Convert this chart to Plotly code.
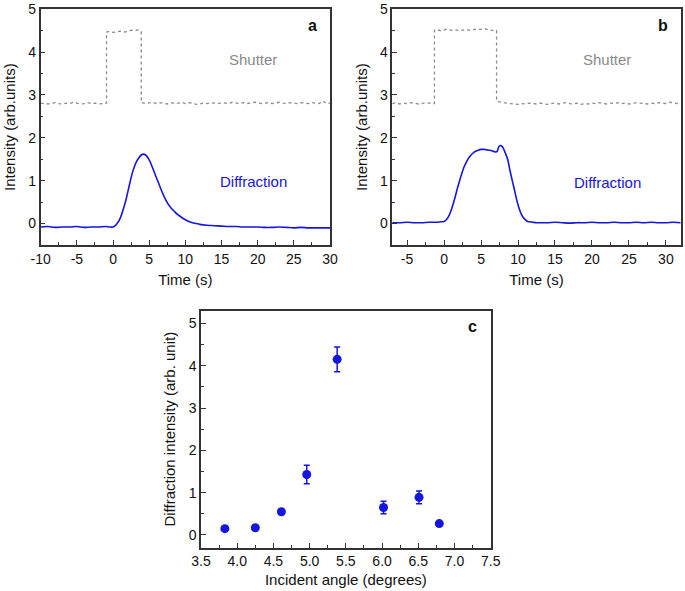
import numpy as np
import plotly.graph_objects as go

# ---------------- Panel a data ----------------
shut_a_pre = [2.80, 2.81, 2.79, 2.80, 2.82, 2.80, 2.79, 2.81, 2.80, 2.83, 2.81, 2.79,
              2.80, 2.82, 2.80, 2.81, 2.79, 2.80, 2.81]                      # t=-10..-1 step .5
shut_a_high = [4.47, 4.48, 4.46, 4.47, 4.49, 4.47, 4.48, 4.51, 4.50, 4.52, 4.48]  # edges -0.9, -0.5..3.5, 3.9
shut_a_post = [2.82, 2.80, 2.81, 2.83, 2.80, 2.82, 2.81, 2.79, 2.82, 2.80, 2.81, 2.83,
               2.80, 2.82, 2.81, 2.78, 2.79, 2.81, 2.80, 2.82, 2.81, 2.80, 2.82, 2.81,
               2.80, 2.83, 2.81, 2.80, 2.82, 2.80, 2.81, 2.83, 2.82, 2.80, 2.81, 2.82,
               2.80, 2.81, 2.83, 2.81, 2.80, 2.82, 2.81, 2.80, 2.82, 2.81, 2.80, 2.82,
               2.81, 2.80, 2.86, 2.80, 2.81]                                  # t=4..30 step .5
shut_a_t = (list(np.arange(-10, -0.99, 0.5)) + [-0.9, -0.9] + list(np.arange(-0.5, 3.51, 0.5))
            + [3.9, 3.9] + list(np.arange(4.0, 30.01, 0.5)))
shut_a_y = shut_a_pre + [2.81] + shut_a_high + [2.82] + shut_a_post

diff_a_t = [-10, -9, -8, -7, -6, -5, -4, -3, -2, -1, -0.5, 0, 0.3, 0.6, 0.9, 1.2, 1.5, 1.8,
            2.1, 2.4, 2.7, 3.0, 3.3, 3.6, 3.9, 4.2, 4.5, 4.8, 5.1, 5.4, 5.7, 6.0, 6.4, 6.8,
            7.2, 7.6, 8.0, 8.5, 9.0, 9.5, 10, 10.5, 11, 11.5, 12, 13, 14, 15, 16, 17, 18,
            19, 20, 21, 22, 23, 24, 25, 26, 27, 28, 29, 30]
diff_a_y = [-0.08, -0.07, -0.09, -0.08, -0.08, -0.07, -0.09, -0.08, -0.08, -0.07, -0.08,
            -0.08, -0.05, 0.01, 0.09, 0.22, 0.38, 0.56, 0.78, 1.00, 1.20, 1.35, 1.46, 1.54,
            1.60, 1.62, 1.60, 1.54, 1.45, 1.33, 1.20, 1.07, 0.90, 0.73, 0.58, 0.46, 0.37,
            0.28, 0.20, 0.14, 0.09, 0.05, 0.02, 0.00, -0.02, -0.04, -0.05, -0.06, -0.07,
            -0.07, -0.08, -0.08, -0.08, -0.09, -0.09, -0.08, -0.09, -0.10, -0.09, -0.10,
            -0.10, -0.10, -0.10]

# ---------------- Panel b data ----------------
shut_b_pre = [2.80, 2.82, 2.79, 2.81, 2.80, 2.82, 2.81, 2.79, 2.80, 2.82, 2.81, 2.80]  # t=-7..-1.5
shut_b_high = [4.51, 4.53, 4.50, 4.52, 4.54, 4.51, 4.52, 4.50, 4.51, 4.53, 4.51, 4.52,
               4.54, 4.53, 4.55, 4.52, 4.50, 4.49, 4.50]   # edges -1.3, -1..7, 7.1
shut_b_post = [2.84, 2.82, 2.81, 2.80, 2.79, 2.78, 2.80, 2.79, 2.81, 2.80, 2.79, 2.81,
               2.80, 2.78, 2.80, 2.81, 2.79, 2.80, 2.82, 2.80, 2.79, 2.81, 2.78, 2.80,
               2.79, 2.81, 2.80, 2.82, 2.80, 2.79, 2.81, 2.80, 2.82, 2.80, 2.81, 2.79,
               2.80, 2.82, 2.81, 2.80, 2.79, 2.81, 2.80, 2.82, 2.81, 2.80, 2.83, 2.81,
               2.80, 2.82]   # t=7.5..32 step .5
shut_b_t = (list(np.arange(-7, -1.49, 0.5)) + [-1.3, -1.3] + list(np.arange(-1.0, 7.01, 0.5))
            + [7.1, 7.1] + list(np.arange(7.5, 32.01, 0.5)))
shut_b_y = shut_b_pre + [2.80] + shut_b_high + [2.86] + shut_b_post

diff_b_t = [-7, -6, -5, -4, -3, -2, -1, -0.5, 0, 0.3, 0.6, 0.9, 1.2, 1.5, 1.8, 2.1, 2.4,
            2.7, 3.0, 3.3, 3.6, 3.9, 4.2, 4.6, 5.0, 5.4, 5.8, 6.2, 6.6, 7.0, 7.2, 7.4, 7.6,
            7.8, 8.0, 8.3, 8.6, 8.9, 9.2, 9.5, 9.8, 10.1, 10.4, 10.7, 11.0, 11.3, 11.6, 12,
            12.5, 13, 14, 15, 16, 17, 18, 19, 20, 21, 22, 23, 24, 25, 26, 27, 28, 29, 30,
            31, 32]
diff_b_y = [0.02, 0.02, 0.03, 0.02, 0.02, 0.03, 0.03, 0.04, 0.05, 0.09, 0.16, 0.28, 0.44,
            0.62, 0.82, 1.00, 1.17, 1.32, 1.43, 1.52, 1.59, 1.64, 1.68, 1.71, 1.73, 1.73,
            1.72, 1.71, 1.69, 1.67, 1.69, 1.79, 1.82, 1.81, 1.76, 1.64, 1.50, 1.25, 1.02,
            0.80, 0.57, 0.38, 0.24, 0.14, 0.09, 0.05, 0.04, 0.03, 0.02, 0.02, 0.02, 0.03,
            0.02, 0.01, 0.02, 0.02, 0.03, 0.02, 0.02, 0.03, 0.02, 0.02, 0.03, 0.02, 0.03,
            0.02, 0.02, 0.03, 0.02]

# ---------------- Panel c data ----------------
angle_c = [3.83, 4.25, 4.61, 4.96, 5.38, 6.02, 6.51, 6.79]
inten_c = [0.15, 0.17, 0.55, 1.43, 4.15, 0.65, 0.89, 0.27]
err_c = [0.02, 0.03, 0.06, 0.22, 0.29, 0.15, 0.15, 0.02]

# tick labels (plain hyphen minus as in the reference)
ticks_a = [-10, -5, 0, 5, 10, 15, 20, 25, 30]
ticks_b = [-5, 0, 5, 10, 15, 20, 25, 30]
ticks_y = [0, 1, 2, 3, 4, 5]
ticks_c = [3.5, 4.0, 4.5, 5.0, 5.5, 6.0, 6.5, 7.0, 7.5]

BLUE = "#1515e0"
GRAY = "#8a8a8a"
FONT = "Liberation Sans, Arial, sans-serif"

fig = go.Figure()
fig.add_trace(go.Scatter(x=shut_a_t, y=shut_a_y, mode="lines",
                         line=dict(color=GRAY, width=1.3, dash="dot"), xaxis="x", yaxis="y"))
fig.add_trace(go.Scatter(x=diff_a_t, y=diff_a_y, mode="lines", line_shape="spline",
                         line=dict(color=BLUE, width=1.6), xaxis="x", yaxis="y"))
fig.add_trace(go.Scatter(x=shut_b_t, y=shut_b_y, mode="lines",
                         line=dict(color=GRAY, width=1.3, dash="dot"), xaxis="x2", yaxis="y2"))
fig.add_trace(go.Scatter(x=diff_b_t, y=diff_b_y, mode="lines", line_shape="spline",
                         line=dict(color=BLUE, width=1.6), xaxis="x2", yaxis="y2"))
fig.add_trace(go.Scatter(x=angle_c, y=inten_c, mode="markers",
                         marker=dict(color=BLUE, size=9),
                         error_y=dict(type="data", array=err_c, color=BLUE, thickness=1.5, width=3),
                         xaxis="x3", yaxis="y3"))


def ax(domain, rng, tickvals, ticktext, minor_dtick, anchor, title, standoff=6):
    return dict(domain=domain, range=rng, tickmode="array", tickvals=tickvals, ticktext=ticktext,
                anchor=anchor, automargin=False, showgrid=False, zeroline=False, showline=True,
                linecolor="#333", linewidth=1.5, mirror=True, ticks="inside", ticklen=5,
                tickwidth=1.3, tickcolor="#333",
                minor=dict(dtick=minor_dtick, tick0=0, ticks="inside", ticklen=3, tickwidth=1.2,
                           tickcolor="#333", showgrid=False),
                tickfont=dict(family=FONT, size=14, color="#111"),
                title=dict(text=title, font=dict(family=FONT, size=15, color="#111"),
                           standoff=standoff))


fig.update_layout(
    template="none",
    width=685, height=591, margin=dict(l=0, r=0, t=0, b=0, pad=0), autosize=False,
    paper_bgcolor="white", plot_bgcolor="white", showlegend=False,
    xaxis=ax([0.0594, 0.4818], [-10, 30], ticks_a, [str(v) for v in ticks_a], 2.5, "y",
             "Time (s)", standoff=9),
    yaxis=ax([0.5855, 0.9843], [-0.5, 5], ticks_y, [str(v) for v in ticks_y], 0.5, "x",
             "Intensity (arb.units)", standoff=9),
    xaxis2=ax([0.5727, 0.9937], [-7, 32], ticks_b, [str(v) for v in ticks_b], 2.5, "y2",
              "Time (s)", standoff=9),
    yaxis2=ax([0.5855, 0.9843], [-0.5, 5], ticks_y, [str(v) for v in ticks_y], 0.5, "x2",
              "Intensity (arb.units)", standoff=9),
    xaxis3=ax([0.2934, 0.7164], [3.5, 7.5], ticks_c, ["%.1f" % v for v in ticks_c], 0.25, "y3",
              "Incident angle (degrees)"),
    yaxis3=ax([0.0733, 0.4743], [-0.3, 5.3], ticks_y, [str(v) for v in ticks_y], 0.5, "x3",
              "Diffraction intensity (arb. unit)", standoff=9),
)

ann = []
for xr, yr, lab in [("x", "y", "a"), ("x2", "y2", "b"), ("x3", "y3", "c")]:
    ann.append(dict(text="<b>%s</b>" % lab, xref=xr + " domain", yref=yr + " domain",
                    x=0.94 if lab != "c" else 0.938, y=0.933, xanchor="center", yanchor="middle",
                    showarrow=False, font=dict(family=FONT, size=16, color="#111")))
ann.append(dict(text="Shutter", x=19.4, y=3.83, xref="x", yref="y", showarrow=False,
                font=dict(family=FONT, size=15, color=GRAY)))
ann.append(dict(text="Diffraction", x=19.4, y=0.98, xref="x", yref="y", showarrow=False,
                font=dict(family=FONT, size=15, color=BLUE)))
ann.append(dict(text="Shutter", x=22.0, y=3.83, xref="x2", yref="y2", showarrow=False,
                font=dict(family=FONT, size=15, color=GRAY)))
ann.append(dict(text="Diffraction", x=22.1, y=0.96, xref="x2", yref="y2", showarrow=False,
                font=dict(family=FONT, size=15, color=BLUE)))
fig.update_layout(annotations=ann)

fig.write_html("out.html", config={"displayModeBar": False},
               post_script="document.body.style.margin='0';document.body.style.overflow='hidden';")
